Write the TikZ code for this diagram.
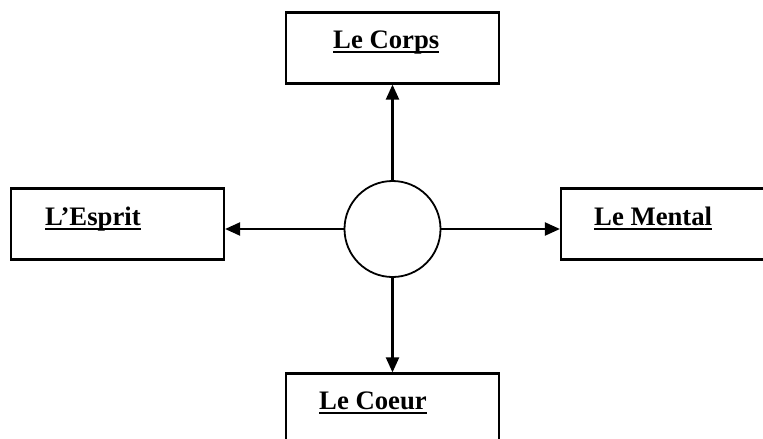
\documentclass[tikz,border=0pt]{standalone}
\usepackage{fontspec}
\setmainfont{Liberation Serif}
\usetikzlibrary{arrows.meta}
\begin{document}
\begin{tikzpicture}[x=1pt,y=-1pt,
  box/.style={draw,line width=2.2pt,minimum width=213pt,minimum height=71pt,inner sep=0pt},
  lbl/.style={font=\fontsize{26.7}{30}\selectfont\bfseries,inner sep=0pt,anchor=base west},
  uline/.style={line width=2.8pt},
  arr/.style={line width=2.2pt,-{Triangle[length=15pt,width=13pt]}}]
\useasboundingbox (0,0) rectangle (763,439);
\clip (0,0) rectangle (763,439);
\fill[white] (0,0) rectangle (763,439);
% boxes
\node[box] (corps) at (392.5,48) {};
\node[box] (esprit) at (117.5,224) {};
\node[box] (mental) at (667.5,224) {};
\node[box] (coeur) at (392.5,409) {};
% labels
\node[lbl] (tcorps) at (333,48) {Le Corps};
\node[lbl] (tesprit) at (45,225) {L’Esprit};
\node[lbl] (tmental) at (594,225) {Le Mental};
\node[lbl] (tcoeur) at (319,409) {Le Coeur};
\foreach \t in {tcorps,tesprit,tmental,tcoeur}
  \draw[uline] ([yshift=-4pt]\t.base west) -- ([yshift=-4pt]\t.base east);
% circle
\node[draw,circle,line width=1.8pt,minimum size=96pt,inner sep=0pt] (c) at (392.5,229) {};
% arrows
\draw[arr] (c.north) -- (c.north |- corps.south);
\draw[arr] (c.west) -- (c.west -| esprit.east);
\draw[arr] (c.east) -- (c.east -| mental.west);
\draw[arr] (c.south) -- (c.south |- coeur.north);
\end{tikzpicture}
\end{document}
